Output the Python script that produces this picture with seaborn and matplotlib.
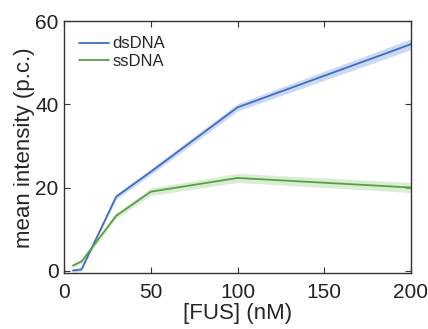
import pandas as pd
import matplotlib
matplotlib.use("Agg")
import matplotlib.pyplot as plt
import seaborn as sns

# data
fus_nM = [5, 10, 30, 50, 100, 200]
dsdna = [0.0, 0.3, 17.8, 23.8, 39.3, 54.5]
dsdna_err = [0.4, 0.4, 0.6, 0.7, 0.9, 1.3]
ssdna = [1.2, 2.2, 13.2, 19.0, 22.3, 20.0]
ssdna_err = [0.5, 0.5, 0.7, 0.9, 1.1, 1.2]

series = ["dsDNA", "ssDNA"]
colors = {"dsDNA": "#3d6fc0", "ssDNA": "#5a9e48"}
bands = {"dsDNA": "#a9c1ef", "ssDNA": "#c0e2b4"}

df = pd.DataFrame({
    "FUS": fus_nM * 2,
    "intensity": dsdna + ssdna,
    "err": dsdna_err + ssdna_err,
    "sample": ["dsDNA"] * len(fus_nM) + ["ssDNA"] * len(fus_nM),
})

sns.set_style("ticks")
plt.rcParams["font.family"] = ["Liberation Sans", "DejaVu Sans"]

fig, ax = plt.subplots(figsize=(4.28, 3.29), dpi=100)

# shaded error bands
for s in series:
    d = df[df["sample"] == s]
    ax.fill_between(d["FUS"], d["intensity"] - d["err"], d["intensity"] + d["err"],
                    color=bands[s], alpha=0.6, linewidth=0)

sns.lineplot(data=df, x="FUS", y="intensity", hue="sample", hue_order=series,
             palette=colors, linewidth=1.3, ax=ax)

ax.set_xlim(0, 200)
ax.set_ylim(-0.6, 60)
ax.set_xticks([0, 50, 100, 150, 200])
ax.set_yticks([0, 20, 40, 60])
ax.set_xlabel("[FUS] (nM)", fontsize=16, labelpad=1)
ax.set_ylabel("mean intensity (p.c.)", fontsize=16, labelpad=0)
ax.tick_params(direction="in", length=4, width=0.8, labelsize=15, top=True, right=True,
               colors="#333333", labelcolor="#222222", pad=4)
ax.tick_params(axis="x", pad=7)
for sp in ax.spines.values():
    sp.set_color("#333333")
    sp.set_linewidth(1.0)

leg = ax.legend(loc="upper left", frameon=False, fontsize=12, handlelength=1.8,
                handletextpad=0.2, labelspacing=0.15, borderaxespad=0.5)
leg.set_title(None)

fig.subplots_adjust(left=0.15, right=0.96, bottom=0.17, top=0.935)
fig.savefig("out.png", dpi=100)
